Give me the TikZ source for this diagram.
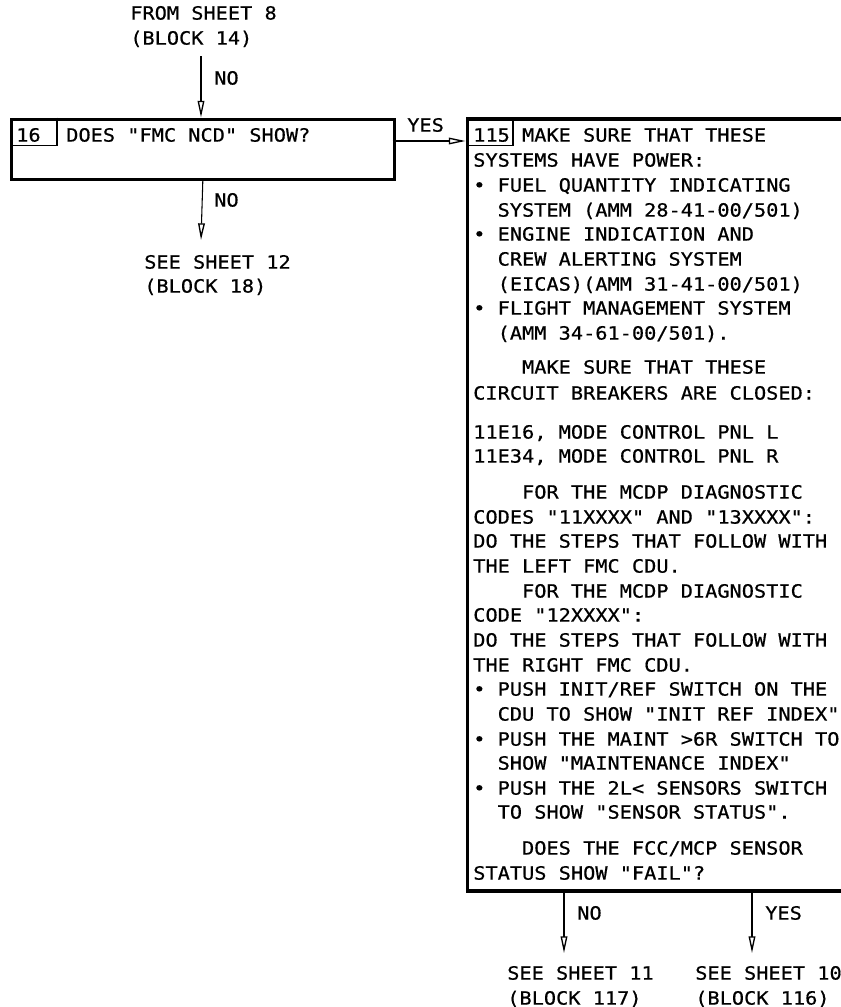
\documentclass[tikz,border=0pt]{standalone}
\usepackage{fontspec}
\setmonofont[FakeStretch=1.11,FakeBold=0.6]{DejaVu Sans Mono}
\usetikzlibrary{arrows.meta}
\begin{document}
\begin{tikzpicture}[x=0.75pt,y=-0.75pt,
  txt/.style={anchor=base west,inner sep=0pt,font=\fontsize{13.7pt}{18pt}\ttfamily},
  thickbox/.style={draw,line width=2.7pt,inner sep=0pt,anchor=north west},
  cell/.style={line width=1pt},
  flow/.style={line width=0.8pt,-{Triangle[open,length=12.5pt,width=5pt,line width=1pt]}}]
\clip (0,0) rectangle (841,1007);
\fill[white] (0,0) rectangle (841,1007);
% boxes
\node[thickbox,minimum width=383*0.75pt,minimum height=60*0.75pt] (b16) at (9.5,117.5) {};
\node[thickbox,minimum width=400*0.75pt,minimum height=772*0.75pt] (b115) at (465.5,117) {};
\draw[cell] (57,117.5) -- (57,145.5) -- (9.5,145.5);
\draw[cell] (513,117) -- (513,145.5) -- (465.5,145.5);
% left texts
\node[txt] (fs1) at (130,19.6) {FROM SHEET 8};
\node[txt] (fs2) at (130,44.6) {(BLOCK 14)};
\node[txt] (no1) at (214,84.6) {NO};
\node[txt] (n16) at (16,141.6) {16};
\node[txt] (q16) at (66,141.6) {DOES "FMC NCD" SHOW?};
\node[txt] (no2) at (214,206.6) {NO};
\node[txt] (ss1) at (144,268.6) {SEE SHEET 12};
\node[txt] (ss2) at (144,292.6) {(BLOCK 18)};
\node[txt] (yes1) at (407,131.6) {YES};
% right box texts
\node[txt] (n115) at (473,141.6) {115};
\node[txt] (r1) at (521.8,141.6) {MAKE SURE THAT THESE};
\node[txt] (r2) at (473,166.6) {SYSTEMS HAVE POWER:};
\node[txt] (r3) at (473,191.6) {• FUEL QUANTITY INDICATING};
\node[txt] (r4) at (497.4,216.6) {SYSTEM (AMM 28-41-00/501)};
\node[txt] (r5) at (473,240.6) {• ENGINE INDICATION AND};
\node[txt] (r6) at (497.4,265.6) {CREW ALERTING SYSTEM};
\node[txt] (r7) at (497.4,290.6) {(EICAS)(AMM 31-41-00/501)};
\node[txt] (r8) at (473,314.6) {• FLIGHT MANAGEMENT SYSTEM};
\node[txt] (r9) at (497.4,339.6) {(AMM 34-61-00/501).};
\node[txt] (r10) at (521.8,373.6) {MAKE SURE THAT THESE};
\node[txt] (r11) at (473,399.6) {CIRCUIT BREAKERS ARE CLOSED:};
\node[txt] (r12) at (473,438.6) {11E16, MODE CONTROL PNL L};
\node[txt] (r13) at (473,462.6) {11E34, MODE CONTROL PNL R};
\node[txt] (r14) at (521.8,498.6) {FOR THE MCDP DIAGNOSTIC};
\node[txt] (r15) at (473,523.6) {CODES "11XXXX" AND "13XXXX":};
\node[txt] (r16) at (473,547.6) {DO THE STEPS THAT FOLLOW WITH};
\node[txt] (r17) at (473,572.6) {THE LEFT FMC CDU.};
\node[txt] (r18) at (521.8,597.6) {FOR THE MCDP DIAGNOSTIC};
\node[txt] (r19) at (473,621.6) {CODE "12XXXX":};
\node[txt] (r20) at (473,646.6) {DO THE STEPS THAT FOLLOW WITH};
\node[txt] (r21) at (473,671.6) {THE RIGHT FMC CDU.};
\node[txt] (r22) at (473,695.6) {• PUSH INIT/REF SWITCH ON THE};
\node[txt] (r23) at (497.4,720.6) {CDU TO SHOW "INIT REF INDEX"};
\node[txt] (r24) at (473,745.6) {• PUSH THE MAINT >6R SWITCH TO};
\node[txt] (r25) at (497.4,769.6) {SHOW "MAINTENANCE INDEX"};
\node[txt] (r26) at (473,794.6) {• PUSH THE 2L< SENSORS SWITCH};
\node[txt] (r27) at (497.4,818.6) {TO SHOW "SENSOR STATUS".};
\node[txt] (r28) at (521.8,854.6) {DOES THE FCC/MCP SENSOR};
\node[txt] (r29) at (473,879.6) {STATUS SHOW "FAIL"?};
% bottom texts
\node[txt] (no3) at (577,919.6) {NO};
\node[txt] (yes2) at (765,919.6) {YES};
\node[txt] (s11a) at (507,979.6) {SEE SHEET 11};
\node[txt] (s11b) at (507,1004.6) {(BLOCK 117)};
\node[txt] (s10a) at (695,979.6) {SEE SHEET 10};
\node[txt] (s10b) at (695,1004.6) {(BLOCK 116)};
% connectors
\coordinate (inTop) at (201,56);
\coordinate (outNo) at (201,240);
\coordinate (yesStart) at (392.5,141);
\coordinate (noEnd) at (564,953);
\coordinate (yesEnd) at (752,953);
\draw[flow] (inTop) -- (inTop |- b16.north);
\draw[flow] (b16.south) -- (outNo);
\draw[flow] (yesStart) -- (yesStart -| b115.west);
\draw[flow] (noEnd |- b115.south) -- (noEnd);
\draw[flow] (yesEnd |- b115.south) -- (yesEnd);
\end{tikzpicture}
\end{document}
